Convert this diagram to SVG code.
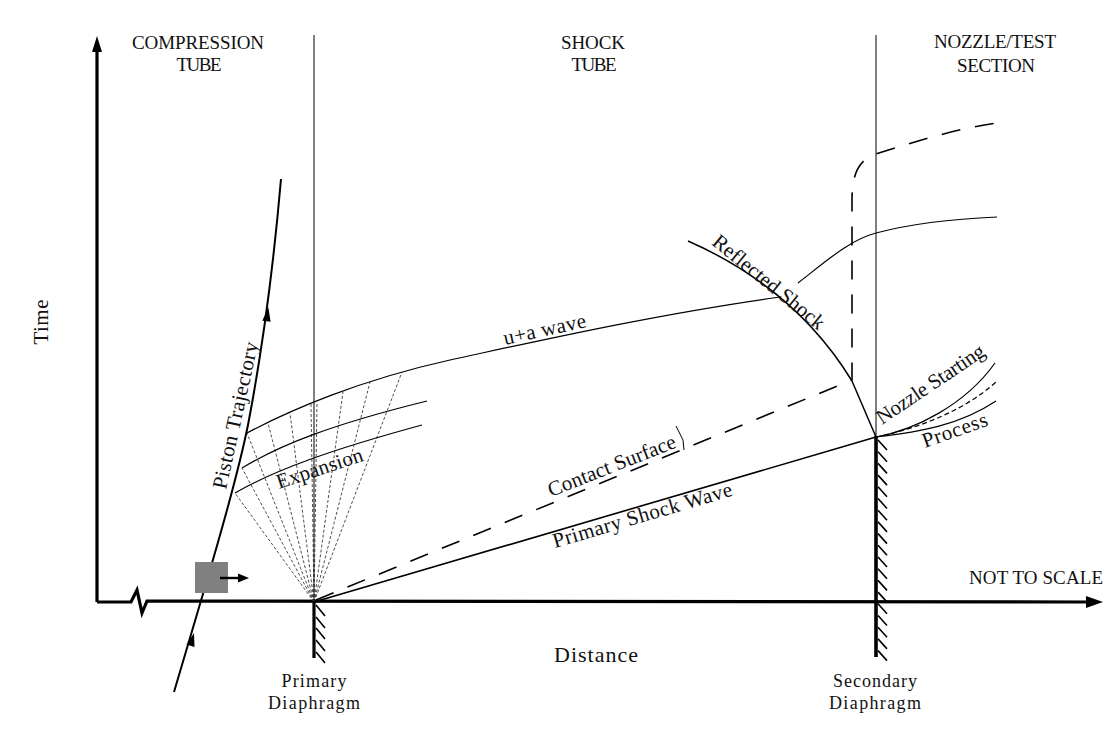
<svg xmlns="http://www.w3.org/2000/svg" width="1120" height="729" viewBox="0 0 1120 729">
<style>
text{font-family:"Liberation Serif","Times New Roman",serif;font-size:19px;fill:#111}
text.lc{font-size:21px}
text.dl{font-size:18px}
.ln{fill:none;stroke:#000;stroke-width:1.2}
.thin{fill:none;stroke:#000;stroke-width:1}
.fan{fill:none;stroke:#222;stroke-width:0.8;stroke-dasharray:3 2}
.dash{fill:none;stroke:#000;stroke-width:1.6;stroke-dasharray:19 15}
.axis{fill:none;stroke:#000;stroke-width:3.2}
.hatch{fill:none;stroke:#000;stroke-width:1.6}
</style>
<rect width="1120" height="729" fill="#fff"/>

<g id="axes">
  <polyline class="axis" points="97,602 97,48"/>
  <polygon points="97,36 92,52 102,52" fill="#000"/>
  <polyline class="axis" points="97,602 131,602 137,590 142,613 147,601 1090,602"/>
  <polygon points="1103,602 1086,596 1086,608" fill="#000"/>
  <text class="lc" x="48" y="322" text-anchor="middle" transform="rotate(-90 48 322)" textLength="45">Time</text>
  <text class="lc" x="596" y="662" text-anchor="middle" textLength="84" style="font-size:22px">Distance</text>
  <text x="1036" y="584" text-anchor="middle" textLength="134">NOT TO SCALE</text>
</g>

<g id="sections">
  <line class="thin" x1="314" y1="35" x2="314" y2="602"/>
  <line class="thin" x1="876" y1="35" x2="876" y2="437"/>
  <text x="198" y="49" text-anchor="middle" textLength="132">COMPRESSION</text>
  <text x="199" y="71" text-anchor="middle" textLength="45">TUBE</text>
  <text x="593" y="49" text-anchor="middle" textLength="64">SHOCK</text>
  <text x="594" y="71" text-anchor="middle" textLength="45">TUBE</text>
  <text x="995" y="48" text-anchor="middle" textLength="122">NOZZLE/TEST</text>
  <text x="996" y="72" text-anchor="middle" textLength="78">SECTION</text>
</g>

<g id="primary-diaphragm">
  <line x1="314" y1="601" x2="314" y2="658" stroke="#000" stroke-width="3.2"/>
  <path class="hatch" d="M316,605 l9,11 M316,617 l9,11 M316,628 l9,11 M316,640 l9,11 M316,652 l9,11"/>
  <text class="dl" x="314" y="687" text-anchor="middle" textLength="65">Primary</text>
  <text class="dl" x="314" y="709" text-anchor="middle" textLength="92">Diaphragm</text>
</g>

<g id="secondary-diaphragm">
  <line x1="876" y1="436" x2="876" y2="657" stroke="#000" stroke-width="3.6"/>
  <path class="hatch" d="M878,440 l9,10 M878,451.7 l9,10 M878,463.4 l9,10 M878,475.1 l9,10 M878,486.8 l9,10 M878,498.5 l9,10 M878,510.2 l9,10 M878,521.9 l9,10 M878,533.6 l9,10 M878,545.3 l9,10 M878,557 l9,10 M878,568.7 l9,10 M878,580.4 l9,10 M878,592.1 l9,10 M878,603.8 l9,10 M878,615.5 l9,10 M878,627.2 l9,10 M878,638.9 l9,10 M878,650.6 l9,10"/>
  <text class="dl" x="875" y="687" text-anchor="middle" textLength="84">Secondary</text>
  <text class="dl" x="875" y="709" text-anchor="middle" textLength="92">Diaphragm</text>
</g>

<g id="piston">
  <path d="M174,692 L200,604 C215,553 236,484 248,425 C262,352 274,260 281,179" fill="none" stroke="#000" stroke-width="2"/>
  <polygon points="194,633 194.5,647 186.5,644.6" fill="#000"/>
  <polygon points="268.3,307 270.6,321.7 262.4,320.7" fill="#000"/>
  <rect x="195" y="562" width="33" height="31" fill="#808080"/>
  <line x1="220" y1="578" x2="240" y2="578" stroke="#000" stroke-width="2.4"/>
  <polygon points="249,578 238,573.5 238,582.5" fill="#000"/>
  <text class="lc" transform="translate(226,490) rotate(-77.6)" textLength="150">Piston Trajectory</text>
</g>

<g id="expansion-fan">
  <path class="fan" d="M314,602 L247,433 M314,602 L268,423 M314,602 L290,413 M314,602 L311,404 M314,602 L317,402 M314,602 L343,392 M314,602 L370,382 M314,602 L402,372 M314,602 L242,468 M314,602 L235,493"/>
  <path class="ln" d="M242,468 C280,445 330,425 427,401"/>
  <path class="ln" d="M235,493 C275,470 330,450 422,425"/>
  <text class="lc" transform="translate(279,489) rotate(-18.4)" textLength="90">Expansion</text>
</g>

<g id="connectors">
  <path class="ln" d="M247,433 C290,410 360,380 450,360 C520,345 650,315 780,297"/>
  <path class="ln" d="M798,283 C830,258 850,240 876,233 C910,224 950,219 997,217"/>
  <path d="M688,241 Q795,288 852,381 L876,437" fill="none" stroke="#000" stroke-width="1.5"/>
  <line x1="314" y1="602" x2="876" y2="437" stroke="#000" stroke-width="1.6"/>
  <path class="dash" d="M316,600 L852,380 L852,200 C852,175 858,160 876,154 C920,140 960,128 997,123"/>
  <polyline class="thin" points="676,426 683,440 684,450" stroke-width="0.8"/>
  <path class="ln" d="M876,437 C915,430 965,405 995,363"/>
  <path class="ln" d="M876,437 C920,428 965,410 996,382" stroke-dasharray="5 3"/>
  <path class="ln" d="M876,437 C920,432 960,425 996,401"/>
</g>

<g id="labels">
  <text class="lc" transform="translate(505,345) rotate(-12.4)" textLength="84">u+a wave</text>
  <text class="lc" transform="translate(711,244) rotate(39)" textLength="138">Reflected Shock</text>
  <text class="lc" transform="translate(551,497) rotate(-21.5)" textLength="136">Contact Surface</text>
  <text class="lc" transform="translate(555,548) rotate(-16.4)" textLength="186">Primary Shock Wave</text>
  <text class="lc" transform="translate(882,425) rotate(-34)" textLength="126">Nozzle Starting</text>
  <text class="lc" transform="translate(925,448) rotate(-19.5)" textLength="68">Process</text>
</g>
</svg>
